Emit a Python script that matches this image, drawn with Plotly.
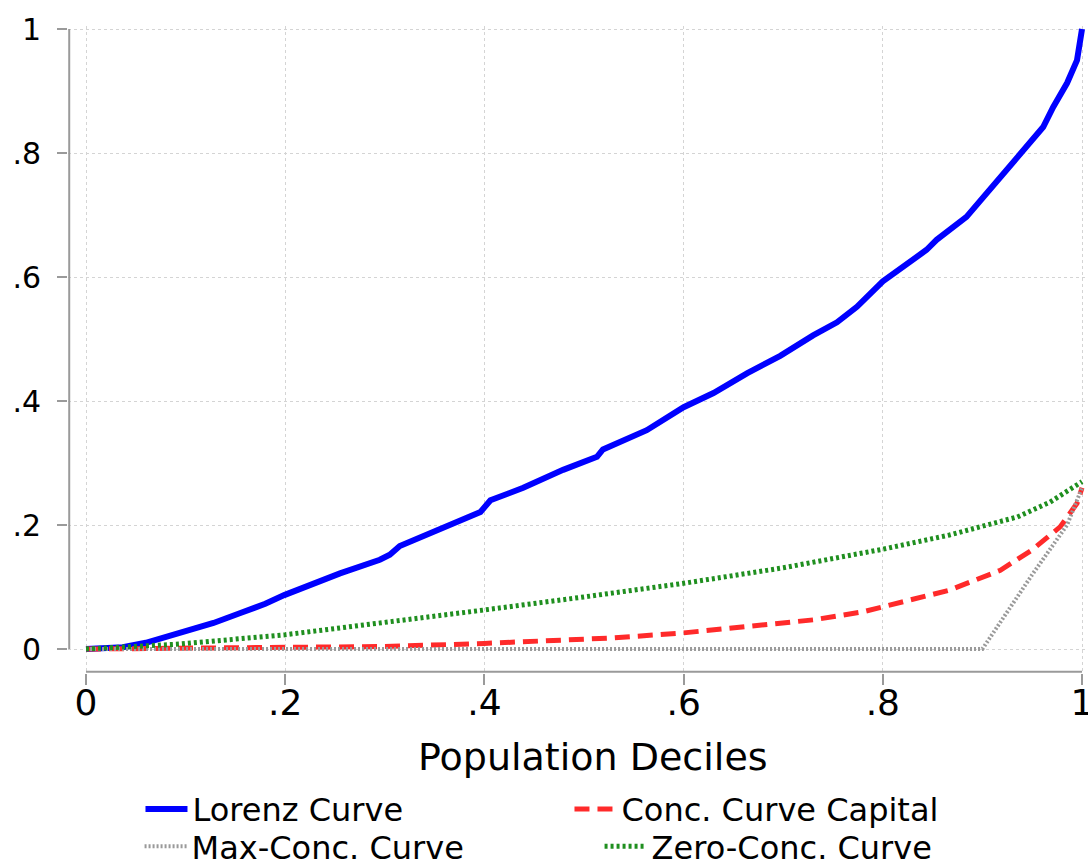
import plotly.graph_objects as go

# ---- data ----
lorenz_x = [0, 0.02, 0.037, 0.06, 0.077, 0.10, 0.128, 0.155, 0.18, 0.199, 0.225, 0.255,
            0.295, 0.305, 0.315, 0.362, 0.396, 0.406, 0.439, 0.479, 0.513, 0.519, 0.563,
            0.60, 0.63, 0.664, 0.697, 0.73, 0.754, 0.774, 0.80, 0.844, 0.854, 0.884,
            0.918, 0.938, 0.961, 0.971, 0.985, 0.995, 1.0]
lorenz_y = [0, 0.0005, 0.003, 0.01, 0.018, 0.028, 0.042, 0.058, 0.073, 0.087, 0.103, 0.122,
            0.144, 0.152, 0.166, 0.197, 0.221, 0.24, 0.26, 0.289, 0.31, 0.322, 0.353,
            0.390, 0.413, 0.445, 0.473, 0.506, 0.527, 0.552, 0.593, 0.644, 0.66, 0.697,
            0.761, 0.802, 0.842, 0.874, 0.913, 0.95, 1.0]

capital_x = [0, 0.2, 0.3, 0.4, 0.5, 0.53, 0.6, 0.664, 0.73, 0.78, 0.8, 0.867, 0.918,
             0.95, 0.978, 0.995, 1.0]
capital_y = [0, 0.002, 0.004, 0.009, 0.015, 0.018, 0.026, 0.036, 0.047, 0.06, 0.068,
             0.095, 0.127, 0.16, 0.197, 0.235, 0.26]

maxconc_x = [0, 0.9, 0.95, 0.985, 1.0]
maxconc_y = [0, 0, 0.12, 0.2, 0.26]

zeroconc_x = [0, 0.094, 0.2, 0.3, 0.4, 0.5, 0.6, 0.7, 0.8, 0.867, 0.935, 0.968, 1.0]
zeroconc_y = [0, 0.008, 0.023, 0.042, 0.063, 0.084, 0.106, 0.131, 0.161, 0.184, 0.213,
              0.237, 0.27]

tick_vals = [0, 0.2, 0.4, 0.6, 0.8, 1]
tick_text = ["0", ".2", ".4", ".6", ".8", "1"]

names = ["Lorenz Curve", "Conc. Curve Capital", "Max-Conc. Curve", "Zero-Conc. Curve"]
x_title = "Population Deciles"

FONT = "DejaVu Sans"
AXIS_GRAY = "#9a9a9a"
GRID_GRAY = "#d4d4d4"

fig = go.Figure()
fig.add_trace(go.Scatter(x=lorenz_x, y=lorenz_y, mode="lines", name=names[0],
                         legend="legend",
                         line=dict(color="#0000ff", width=6)))
fig.add_trace(go.Scatter(x=capital_x, y=capital_y, mode="lines", name=names[1],
                         legend="legend",
                         line=dict(color="#ff2a2a", width=5, dash="15px,8px")))
fig.add_trace(go.Scatter(x=maxconc_x, y=maxconc_y, mode="lines", name=names[2],
                         legend="legend2",
                         line=dict(color="#9a9a9a", width=4, dash="2px,2px")))
fig.add_trace(go.Scatter(x=zeroconc_x, y=zeroconc_y, mode="lines", name=names[3],
                         legend="legend2",
                         line=dict(color="#1f8f1f", width=5, dash="3px,3px")))

# axis lines spanning tick range (Stata style)
fig.add_shape(type="line", xref="paper", yref="y", x0=0.0012, x1=0.0012, y0=0, y1=1,
              line=dict(color=AXIS_GRAY, width=2))
fig.add_shape(type="line", xref="x", yref="paper", x0=0, x1=1, y0=0.0018, y1=0.0018,
              line=dict(color=AXIS_GRAY, width=2))

fig.add_annotation(text=x_title, xref="paper", yref="paper", x=0.516, y=-0.13,
                   xanchor="center", yanchor="middle", showarrow=False,
                   font=dict(size=38, family=FONT, color="black"))

leg_common = dict(orientation="h", xanchor="left", yanchor="top",
                  entrywidthmode="pixels", itemwidth=42,
                  font=dict(size=32, family=FONT, color="black"),
                  bgcolor="rgba(0,0,0,0)")

fig.update_layout(
    width=1088, height=868,
    margin=dict(l=68, r=2, t=26, b=195, autoexpand=False),
    paper_bgcolor="white", plot_bgcolor="white",
    font=dict(family=FONT, color="black"),
    showlegend=True,
    legend=dict(x=0.0712, y=-0.168, entrywidth=372, **leg_common),
    legend2=dict(x=0.0703, y=-0.2255, entrywidth=403, **leg_common),
)
fig.update_xaxes(
    range=[-0.0181, 1.004], tickmode="array", tickvals=tick_vals, ticktext=tick_text,
    ticks="outside", ticklen=11, tickwidth=2, tickcolor=AXIS_GRAY,
    tickfont=dict(size=36, family=FONT), ticklabelstandoff=-13,
    ticklabeloverflow="allow", automargin=False,
    showgrid=True, gridcolor=GRID_GRAY, gridwidth=1, griddash="dot",
    zeroline=False, showline=False,
)
fig.update_yaxes(
    range=[-0.0387, 1.005], tickmode="array", tickvals=tick_vals, ticktext=tick_text,
    ticks="outside", ticklen=10, tickwidth=2, tickcolor=AXIS_GRAY,
    tickfont=dict(size=30, family=FONT), ticklabelstandoff=10, automargin=False,
    showgrid=True, gridcolor=GRID_GRAY, gridwidth=1, griddash="dot",
    zeroline=False, showline=False,
)

fig.write_html("out.html")
